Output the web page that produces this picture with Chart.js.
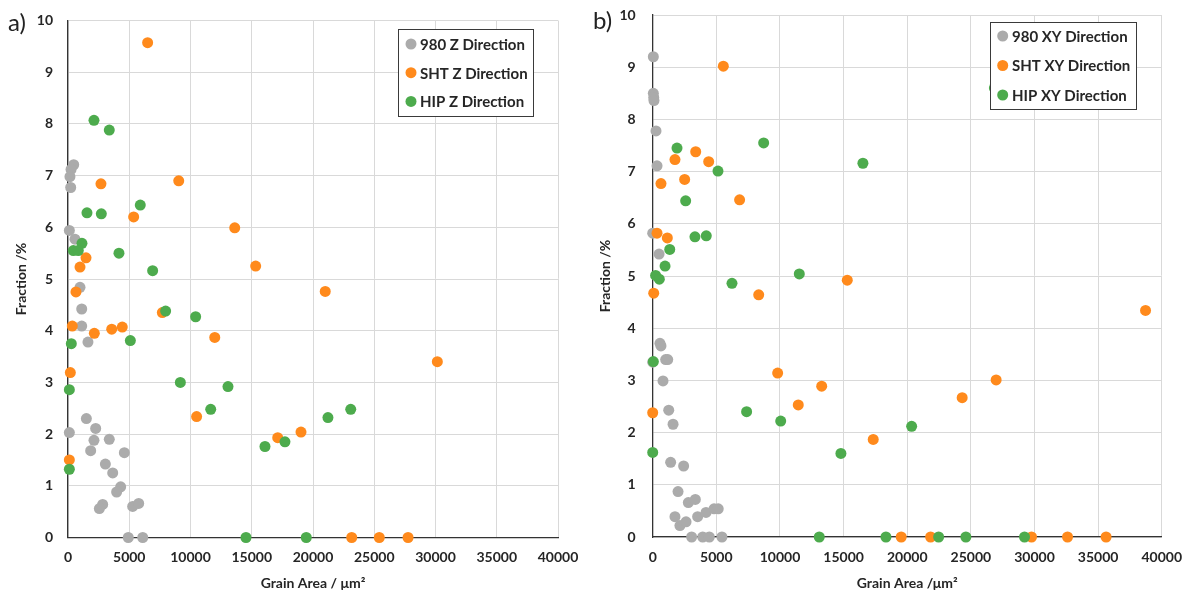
<!DOCTYPE html>
<html>
<head>
<meta charset="utf-8">
<title>Grain area vs fraction</title>
<script src="https://cdn.jsdelivr.net/npm/chart.js@4.4.1/dist/chart.umd.min.js"></script>
<style>
  body { margin: 0; background: #fff; }
  .panel { position: absolute; top: 0; }
  #chart-z { left: 0; }
  #chart-xy { left: 590px; }
</style>
</head>
<body>
<canvas id="chart-z" class="panel" width="590" height="596"></canvas>
<canvas id="chart-xy" class="panel" width="599" height="596"></canvas>
<script>
// ---- tick labels ----
const xTickValues = [0, 5000, 10000, 15000, 20000, 25000, 30000, 35000, 40000];
const yTickValues = [0, 1, 2, 3, 4, 5, 6, 7, 8, 9, 10];

// ---- a) Z direction ----
const zLabels = ["980 Z Direction", "SHT Z Direction", "HIP Z Direction"];
const z980Area = [465, 250, 160, 220, 110, 570, 980, 1120, 1120, 1630, 1500, 2260, 110, 2120, 3370, 1850, 4600, 3050, 3650, 4300, 3970, 2830, 2560, 5280, 5770, 4920, 6100];
const z980Frac = [7.21, 7.12, 6.98, 6.77, 5.94, 5.77, 4.84, 4.42, 4.09, 3.78, 2.30, 2.11, 2.03, 1.88, 1.90, 1.68, 1.64, 1.42, 1.25, 0.98, 0.88, 0.64, 0.56, 0.60, 0.66, 0, 0];
const zShtArea = [6500, 2690, 9040, 5360, 13610, 1470, 980, 15320, 650, 21000, 7700, 350, 2150, 3570, 4430, 11980, 190, 10500, 110, 17120, 19020, 30150, 23160, 25410, 27760];
const zShtFrac = [9.57, 6.84, 6.90, 6.20, 5.99, 5.41, 5.23, 5.25, 4.75, 4.76, 4.35, 4.09, 3.95, 4.03, 4.07, 3.87, 3.19, 2.34, 1.50, 1.93, 2.04, 3.40, 0, 0, 0];
const zHipArea = [2120, 3370, 1550, 2720, 5900, 1140, 435, 840, 4160, 6910, 7970, 10420, 5090, 270, 9170, 13060, 110, 11650, 110, 16080, 17710, 21220, 23080, 14530, 19450];
const zHipFrac = [8.07, 7.88, 6.28, 6.26, 6.43, 5.69, 5.55, 5.55, 5.50, 5.16, 4.38, 4.27, 3.81, 3.75, 3.00, 2.92, 2.86, 2.48, 1.32, 1.76, 1.85, 2.32, 2.48, 0, 0];

// ---- b) XY direction ----
const xyLabels = ["980 XY Direction", "SHT XY Direction", "HIP XY Direction"];
const xy980Area = [50, 50, 80, 100, 260, 340, 0, 500, 570, 650, 0, 1020, 1180, 810, 1260, 1600, 1410, 2430, 1990, 2800, 3350, 1750, 2140, 2620, 3530, 4190, 4820, 5150, 3060, 3930, 4450, 5440];
const xy980Frac = [9.20, 8.50, 8.42, 8.36, 7.78, 7.11, 5.82, 5.42, 3.71, 3.66, 3.35, 3.40, 3.40, 2.99, 2.43, 2.16, 1.43, 1.36, 0.87, 0.66, 0.72, 0.39, 0.22, 0.29, 0.39, 0.47, 0.54, 0.54, 0, 0, 0, 0];
const xyShtArea = [5550, 1750, 3380, 4400, 650, 2510, 6830, 340, 1150, 8330, 80, 15290, 9820, 13280, 11440, 0, 17330, 38730, 26990, 24320, 19530, 21840, 29770, 32600, 35630];
const xyShtFrac = [9.02, 7.23, 7.38, 7.19, 6.77, 6.85, 6.46, 5.82, 5.73, 4.64, 4.67, 4.92, 3.14, 2.89, 2.53, 2.38, 1.87, 4.34, 3.01, 2.67, 0, 0, 0, 0, 0];
const xyHipArea = [1910, 8720, 5130, 16520, 2590, 3320, 4210, 1340, 970, 230, 520, 6230, 11520, 50, 7380, 10060, 0, 14790, 13090, 18330, 22470, 24610, 29220, 20350, 26850];
const xyHipFrac = [7.45, 7.55, 7.01, 7.16, 6.44, 5.75, 5.77, 5.51, 5.19, 5.01, 4.94, 4.86, 5.04, 3.36, 2.40, 2.22, 1.62, 1.60, 0, 0, 0, 0, 0, 2.12, 8.60];

const seriesColors = ["#ABABAB", "#FF8A1C", "#4DAB4D"];
const fontFamily = "Lato, 'Open Sans', sans-serif";
const textColor = "#262626";

function toPoints(xs, ys) {
  return xs.map((x, i) => ({ x: x, y: ys[i] }));
}

function makeDatasets(labels, pairs) {
  return pairs.map((p, i) => ({
    label: labels[i],
    data: toPoints(p[0], p[1]),
    backgroundColor: seriesColors[i],
    borderWidth: 0,
    pointRadius: 5.5,
    pointHoverRadius: 5.5,
    order: 3 - i,
    clip: false,
  }));
}

/* ============================================= */
/*        legend box + panel letter plugin       */
/* ============================================= */
const boxLegend = {
  id: "boxLegend",
  afterDraw(chart, args, opts) {
    const ctx = chart.ctx;
    ctx.save();
    ctx.fillStyle = "#fff";
    ctx.fillRect(opts.x, opts.y, opts.w, opts.h);
    ctx.strokeStyle = "#3a3a3a";
    ctx.lineWidth = 1;
    ctx.strokeRect(opts.x + 0.5, opts.y + 0.5, opts.w, opts.h);
    ctx.font = "bold 15px " + fontFamily;
    ctx.textBaseline = "middle";
    ctx.textAlign = "left";
    chart.data.datasets.forEach((ds, i) => {
      const cy = opts.y + opts.first + i * opts.gap;
      ctx.fillStyle = ds.backgroundColor;
      ctx.beginPath();
      ctx.arc(opts.x + opts.dot, cy, 5.5, 0, Math.PI * 2);
      ctx.fill();
      ctx.fillStyle = textColor;
      ctx.fillText(ds.label, opts.x + opts.text, cy + 1);
    });
    // panel letter
    ctx.font = "24px " + fontFamily;
    ctx.fillStyle = "#222";
    ctx.textBaseline = "alphabetic";
    ctx.fillText(opts.letter, opts.lx, opts.ly);
    ctx.restore();
  },
};

function makeOptions(o) {
  return {
    responsive: false,
    animation: false,
    events: [],
    layout: { autoPadding: false, padding: { left: 0, top: o.top, right: o.right, bottom: 0 } },
    scales: {
      x: {
        type: "linear",
        min: 0,
        max: 40000,
        afterFit: (s) => { s.height = o.xh; s.paddingLeft = 0; s.paddingRight = 0; },
        afterBuildTicks: (s) => { s.ticks = xTickValues.map((v) => ({ value: v })); },
        grid: { color: "#d9d9d9", lineWidth: 1, drawTicks: false },
        border: { color: "#333", width: 1.3 },
        ticks: { padding: 12, color: textColor, font: { family: fontFamily, size: 14, weight: "bold" }, maxRotation: 0, callback: (v) => String(v) },
        title: { display: true, text: o.xTitle, color: textColor, font: { family: fontFamily, size: 14, weight: "bold" }, padding: { top: 0, bottom: 4 } },
      },
      y: {
        type: "linear",
        min: 0,
        max: 10,
        afterFit: (s) => { s.width = o.yw; s.paddingTop = 0; s.paddingBottom = 0; },
        afterBuildTicks: (s) => { s.ticks = yTickValues.map((v) => ({ value: v })); },
        grid: { color: "#d9d9d9", lineWidth: 1, drawTicks: false },
        border: { color: "#333", width: 1.3 },
        ticks: { padding: o.ytp, color: textColor, font: { family: fontFamily, size: 14, weight: "bold" }, callback: (v) => String(v) },
        title: { display: true, text: "Fraction /%", color: textColor, font: { family: fontFamily, size: 14, weight: "bold" }, padding: { top: o.ytitle, bottom: 0 } },
      },
    },
    plugins: {
      legend: { display: false },
      tooltip: { enabled: false },
      boxLegend: o.legend,
    },
  };
}

const zChart = new Chart(document.querySelector("#chart-z"), {
  type: "scatter",
  data: {
    datasets: makeDatasets(zLabels, [[z980Area, z980Frac], [zShtArea, zShtFrac], [zHipArea, zHipFrac]]),
  },
  options: makeOptions({
    top: 20.5, right: 32, xh: 58.5, yw: 68, ytp: 15, ytitle: 13,
    xTitle: "Grain Area / μm²",
    legend: { x: 398, y: 29, w: 135, h: 87, dot: 13, text: 22, first: 15, gap: 28.7, letter: "a)", lx: 8, ly: 31 },
  }),
  plugins: [boxLegend],
});

const xyChart = new Chart(document.querySelector("#chart-xy"), {
  type: "scatter",
  data: {
    datasets: makeDatasets(xyLabels, [[xy980Area, xy980Frac], [xyShtArea, xyShtFrac], [xyHipArea, xyHipFrac]]),
  },
  options: makeOptions({
    top: 15, right: 27.3, xh: 59, yw: 62.7, ytp: 17, ytitle: 7,
    xTitle: "Grain Area /μm²",
    legend: { x: 400, y: 22, w: 146, h: 87, dot: 12.7, text: 22, first: 14, gap: 29.5, letter: "b)", lx: 3, ly: 29 },
  }),
  plugins: [boxLegend],
});
</script>
</body>
</html>
